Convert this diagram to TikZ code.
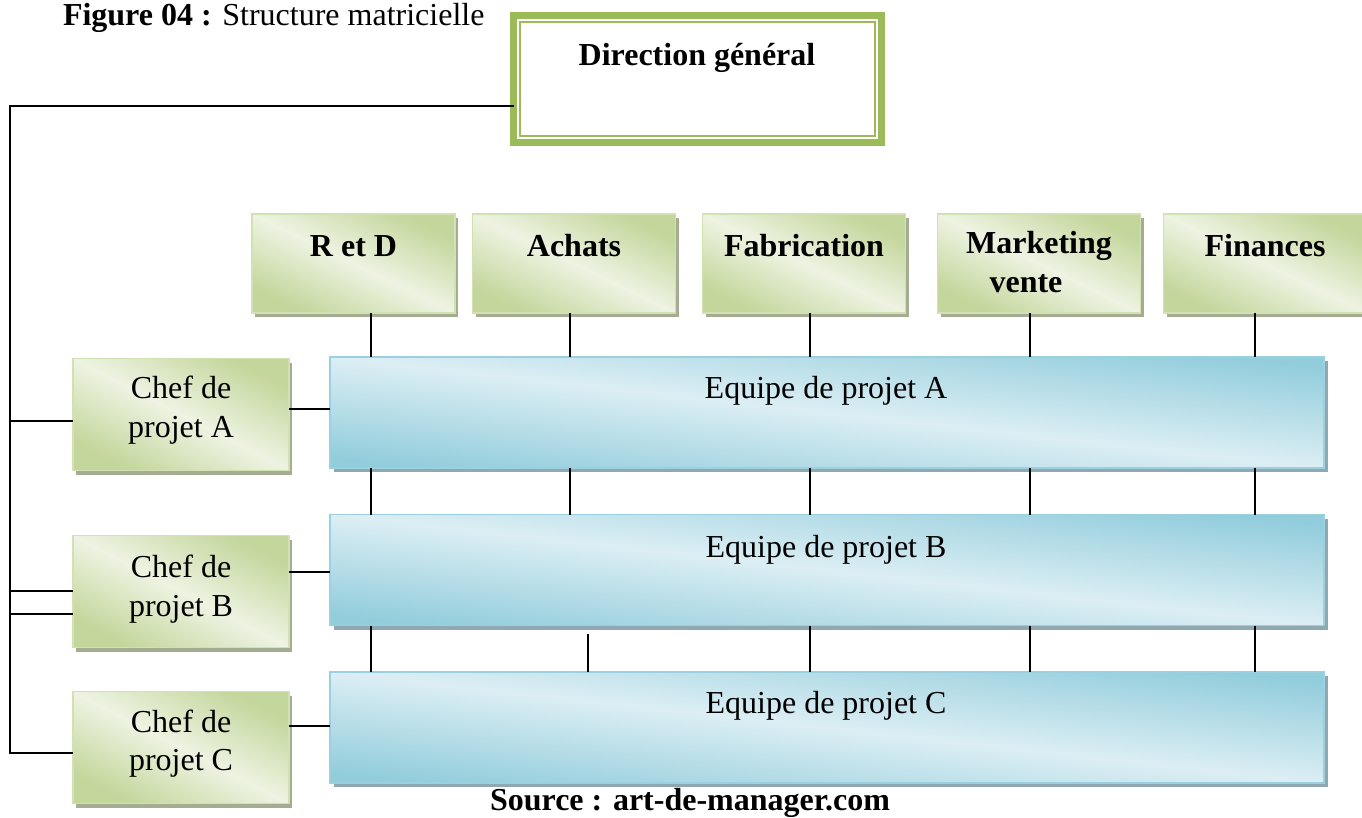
\documentclass[tikz,border=0pt]{standalone}
\usepackage{fontspec}
\setmainfont{Liberation Serif}
\usetikzlibrary{shadows}
\definecolor{gdark}{HTML}{C3D69B}
\definecolor{glight}{HTML}{EEF3E2}
\definecolor{gborder}{HTML}{D2E0B4}
\definecolor{gshadow}{HTML}{A4AD91}
\definecolor{bdark}{HTML}{92CDDC}
\definecolor{blight}{HTML}{DCEEF4}
\definecolor{bborder}{HTML}{9AD0DF}
\definecolor{bshadow}{HTML}{8FA8B2}
\definecolor{frame}{HTML}{9BBB59}
\begin{document}
\begin{tikzpicture}[x=1pt,y=-1pt,
  every node/.style={outer sep=0pt},
  txt/.style={font=\fontsize{32}{38}\selectfont, anchor=base, inner sep=0pt},
  btxt/.style={txt, font=\fontsize{32}{38}\selectfont\bfseries},
  greenbox/.style={draw=gborder, line width=1.2pt, top color=gdark, bottom color=gdark, middle color=glight,
    general shadow={fill=gshadow, shadow xshift=3pt, shadow yshift=-4pt}},
  bluebox/.style={draw=bborder, line width=1.2pt, top color=bdark, bottom color=bdark, middle color=blight, shading angle=-6.4,
    general shadow={fill=bshadow, shadow xshift=4pt, shadow yshift=-4pt},
    minimum width=994pt, minimum height=111pt},
  dept/.style={greenbox, shading angle=-26, minimum width=203pt, minimum height=99pt},
  chef/.style={greenbox, shading angle=-27.4, minimum width=216pt, minimum height=112pt},
  conn/.style={draw=black, line width=1.8pt}
]
\useasboundingbox (0,0) rectangle (1362,818);
\fill[white] (0,0) rectangle (1362,818);

% title
\node[txt, anchor=base west] (title) at (63,26) {\textbf{Figure 04 :} Structure matricielle};

% direction
\node[draw=frame, line width=7pt, minimum width=368pt, minimum height=127pt, inner sep=0pt] (dir) at (697.5,79) {};
\draw[frame, line width=2pt] (520,22) rectangle (875,136);
\node[btxt] (dirt) at (697,66) {Direction général};

% departments
\node[dept] (rd) at (353.5,263.5) {};
\node[dept] (ach) at (574,263.5) {};
\node[dept] (fab) at (804,263.5) {};
\node[dept] (mkt) at (1039,263.5) {};
\node[dept] (fin) at (1265,263.5) {};
\node[btxt] (rdt) at (353.5,257) {R et D};
\node[btxt] (acht) at (574,257) {Achats};
\node[btxt] (fabt) at (804,257) {Fabrication};
\node[btxt] (mktt) at (1039,254) {Marketing};
\node[btxt] (mktt2) at (1026,292) {vente};
\node[btxt] (fint) at (1265,257) {Finances};

% chefs
\node[chef] (ca) at (181,414.5) {};
\node[chef] (cb) at (181,591.5) {};
\node[chef] (cc) at (181,747.5) {};
\node[txt] (cat1) at (181,398) {Chef de};
\node[txt] (cat2) at (181,437) {projet A};
\node[txt] (cbt1) at (181,577) {Chef de};
\node[txt] (cbt2) at (181,616) {projet B};
\node[txt] (cct1) at (181,732) {Chef de};
\node[txt] (cct2) at (181,770) {projet C};

% equipes
\node[bluebox] (ea) at (827,412.5) {};
\node[bluebox] (eb) at (827,570) {};
\node[bluebox] (ec) at (827,727.5) {};
\node[txt] (eat) at (826,398) {Equipe de projet A};
\node[txt] (ebt) at (826,557) {Equipe de projet B};
\node[txt] (ect) at (826,713) {Equipe de projet C};

% source
\node[btxt] (src) at (690,810) {Source : art-de-manager.com};

% column coordinates
\coordinate (k1) at (371,0);
\coordinate (k2) at (570,0);
\coordinate (k2b) at (588,0);
\coordinate (k3) at (810,0);
\coordinate (k4) at (1030,0);
\coordinate (k5) at (1255,0);
\coordinate (spine) at (10,106);

% left spine
\coordinate (la) at (0,421);
\coordinate (b1) at (0,591);
\coordinate (b2) at (0,614);
\coordinate (lc) at (0,753);
\draw[conn] (dir.west |- spine) -- (spine) -- (spine |- lc) -- (cc.west |- lc);
\draw[conn] (spine |- la) -- (ca.west |- la);
\draw[conn] (spine |- b1) -- (cb.west |- b1);
\draw[conn] (spine |- b2) -- (cb.west |- b2);

% chef to equipe
\coordinate (ha) at (0,409);
\coordinate (hb) at (0,572);
\coordinate (hc) at (0,726);
\draw[conn] (ca.east |- ha) -- (ea.west |- ha);
\draw[conn] (cb.east |- hb) -- (eb.west |- hb);
\draw[conn] (cc.east |- hc) -- (ec.west |- hc);

% verticals
\foreach \k in {k1,k2,k3,k4,k5} {
  \draw[conn] (rd.south -| \k) -- (ea.north -| \k);
  \draw[conn] (ea.south -| \k) -- (eb.north -| \k);
}
\foreach \k in {k1,k3,k4,k5} {
  \draw[conn] (eb.south -| \k) -- (ec.north -| \k);
}
\draw[conn] ([yshift=-8pt]eb.south -| k2b) -- (ec.north -| k2b);
\end{tikzpicture}
\end{document}
